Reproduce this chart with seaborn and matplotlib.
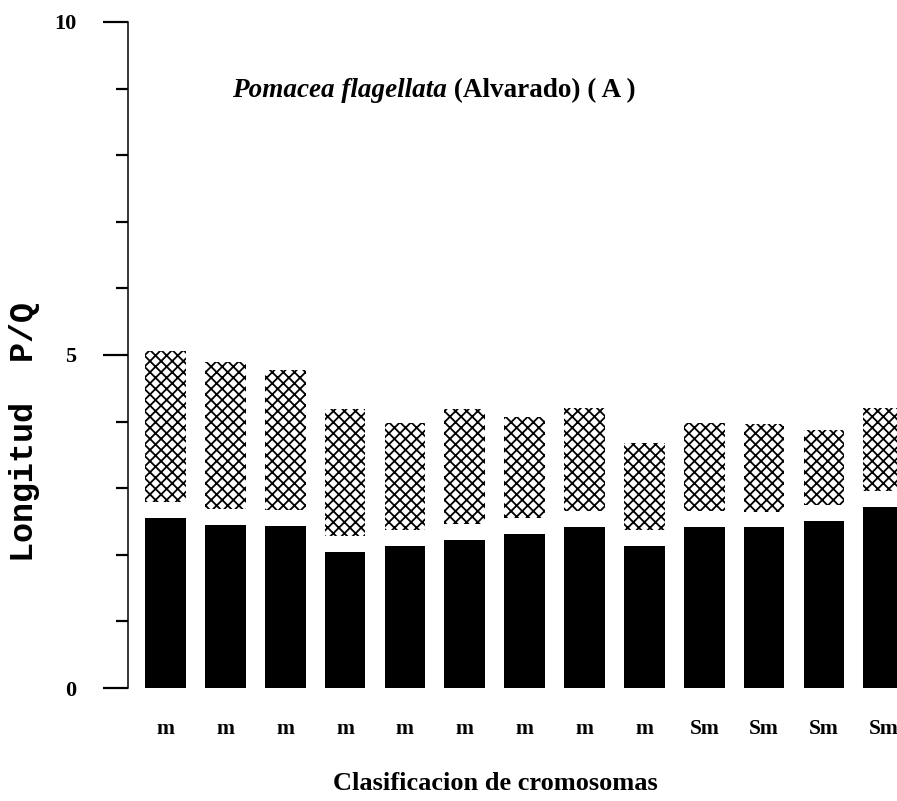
import matplotlib
matplotlib.use("Agg")
import matplotlib.pyplot as plt
import seaborn as sns
import pandas as pd
import numpy as np

# Chromosome pairs: classification, long arm (q, solid) and short arm (p, hatched)
classes = ["m", "m", "m", "m", "m", "m", "m", "m", "m", "Sm", "Sm", "Sm", "Sm"]
q_arm = [2.55, 2.45, 2.43, 2.04, 2.13, 2.22, 2.31, 2.42, 2.13, 2.42, 2.41, 2.51, 2.72]
p_arm = [2.27, 2.20, 2.10, 1.91, 1.61, 1.73, 1.52, 1.54, 1.31, 1.32, 1.32, 1.12, 1.24]
y_major = [0, 5, 10]
y_minor = [0, 1, 2, 3, 4, 5, 6, 7, 8, 9, 10]

GAP = 0.24        # blank space drawn for the centromere
BAR_W = 0.68

sns.set_theme(style="white")
plt.rcParams.update({
    "hatch.linewidth": 1.3,
    "text.color": "black",
    "axes.labelcolor": "black",
    "xtick.color": "black",
    "ytick.color": "black",
})
plt.rcParams["font.family"] = ["Liberation Serif", "DejaVu Serif"]

df = pd.DataFrame({"pair": list(range(len(classes))), "q": q_arm, "p": p_arm})

fig = plt.figure(figsize=(8.97, 8.01), dpi=100)
W, H = 897, 801
ax_left, ax_right, ax_bottom, ax_top = 128, 897, 688, 22
ax = fig.add_axes([ax_left / W, 1 - ax_bottom / H,
                   (ax_right - ax_left) / W, (ax_bottom - ax_top) / H])

# long arms
sns.barplot(data=df, x="pair", y="q", color="black", saturation=1,
            width=BAR_W, linewidth=0, ax=ax)
# short arms stacked above, separated by the centromere gap
ax.bar(df["pair"], df["p"], bottom=df["q"] + GAP, width=BAR_W,
       color="white", edgecolor="black", hatch="xxx", linewidth=0)

ax.set_ylim(0, 10)
ax.set_xlim(-0.625, 12.22)

ax.set_yticks(y_major)
ax.set_yticks(y_minor, minor=True)
ax.set_yticklabels([str(v) for v in y_major], fontsize=16, fontweight="bold")
ax.tick_params(axis="y", which="major", length=18, width=1.6, pad=19,
               direction="out", left=True, color="black", labelcolor="black")
ax.tick_params(axis="y", which="minor", length=8.5, width=1.6,
               direction="out", left=True, color="black")

ax.set_xticks(range(len(classes)))
ax.set_xticklabels(classes, fontsize=15.5, fontweight="bold")
ax.tick_params(axis="x", length=0, pad=22, labelcolor="black")

for s in ["top", "right", "bottom"]:
    ax.spines[s].set_visible(False)
ax.spines["left"].set_color("black")
ax.spines["left"].set_linewidth(1.1)

ax.set_xlabel("Clasificacion de cromosomas", fontsize=19, fontweight="bold",
              va="center", color="black")
ax.xaxis.set_label_coords((495 - ax_left) / (ax_right - ax_left),
                          (ax_bottom - 784) / (ax_bottom - ax_top))

ax.set_ylabel("Longitud  P/Q", family=["Liberation Mono", "DejaVu Sans Mono"],
              fontsize=24, fontweight="bold", va="center", color="black")
ax.yaxis.set_label_coords((25 - ax_left) / (ax_right - ax_left),
                          (ax_bottom - 432) / (ax_bottom - ax_top))

t1 = fig.text(232 / W, 1 - 97 / H, "Pomacea flagellata", fontsize=19.5,
              fontweight="bold", fontstyle="italic", va="baseline",
              color="black")
ax.annotate(" (Alvarado) ( A )", xy=(1, 0), xycoords=t1, va="bottom",
            ha="left", fontsize=19.5, fontweight="bold", color="black")

fig.savefig("out.png", dpi=100, facecolor="white")
